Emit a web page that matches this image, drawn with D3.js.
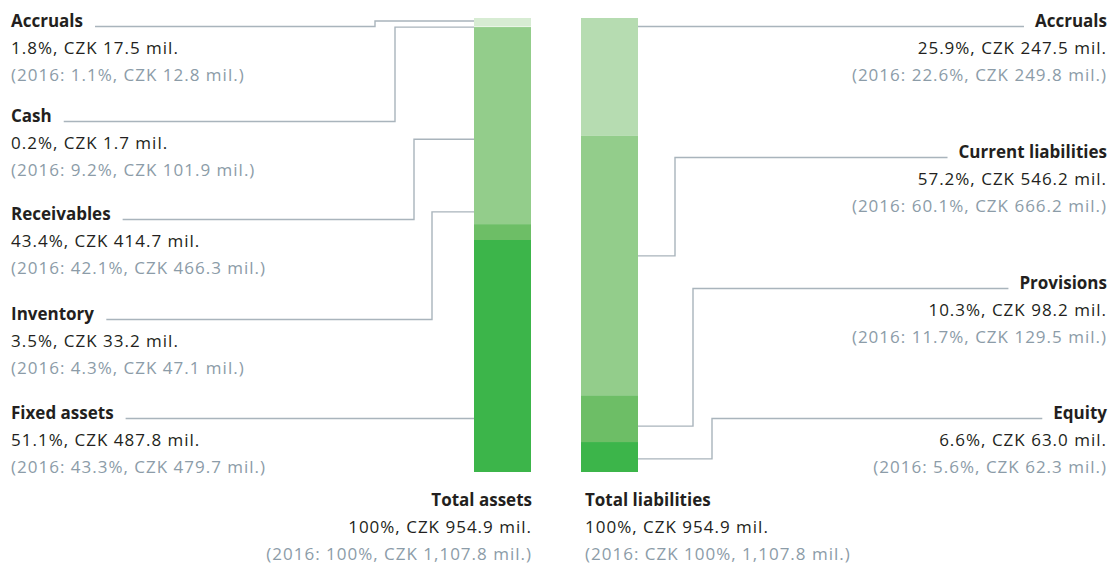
<!DOCTYPE html>
<html>
<head>
<meta charset="utf-8">
<script src="https://cdn.jsdelivr.net/npm/d3@7"></script>
<style>
  body { margin: 0; background: #fff; }
  text { font-family: "Open Sans", sans-serif; font-size: 17px; letter-spacing: 1px; }
  text.head { letter-spacing: 0; }
</style>
</head>
<body>
<script>
// assets (top to bottom of the left bar)
const assetNames = ["Accruals", "Cash", "Receivables", "Inventory", "Fixed assets"];
const assetShares = [1.8, 0.2, 43.4, 3.5, 51.1];
const assetValues = ["17.5", "1.7", "414.7", "33.2", "487.8"];
const assetShares2016 = ["1.1", "9.2", "42.1", "4.3", "43.3"];
const assetValues2016 = ["12.8", "101.9", "466.3", "47.1", "479.7"];

// liabilities (top to bottom of the right bar)
const liabNames = ["Accruals", "Current liabilities", "Provisions", "Equity"];
const liabShares = [25.9, 57.2, 10.3, 6.6];
const liabValues = ["247.5", "546.2", "98.2", "63.0"];
const liabShares2016 = ["22.6", "60.1", "11.7", "5.6"];
const liabValues2016 = ["249.8", "666.2", "129.5", "62.3"];

const totalNames = ["Total assets", "Total liabilities"];
const totalLines = ["100%, CZK 954.9 mil.", "100%, CZK 954.9 mil."];
const totalLines2016 = ["(2016: 100%, CZK 1,107.8 mil.)", "(2016: CZK 100%, 1,107.8 mil.)"];

// layout
const w = 1110, h = 565;
const assetColors = ["#d7ecd3", "#e6f3e3", "#93cd8b", "#6dbe66", "#3cb54a"];
const liabColors = ["#b6dcb1", "#93cd8b", "#6dbe66", "#3cb54a"];
const assetAnchors = [0.66, 2.0, 26.7, 42.7, 88.1];   // where leader lines hit the bar, in % of bar
const liabAnchors = [2.0, 52.4, 89.9, 97.1];
const assetElbows = [375, 395, 414, 432, null];
const liabElbows = [null, 675, 693, 712];
const assetBaselines = [27, 122, 220, 320, 419];
const liabBaselines = [27, 158, 289, 419];
const lineGap = 27;
const lineColor = "#a9b4bc";

const svg = d3.select("body").append("svg")
  .attr("width", w)
  .attr("height", h);

const yScale = d3.scaleLinear().domain([0, 100]).range([18, 472]);
const xScale = d3.scaleBand().domain(["assets", "liabilities"]).range([474, 638]).paddingInner(50 / 107);

const stack = shares => {
  let acc = 0;
  return shares.map(s => { const d = [acc, acc + s]; acc += s; return d; });
};

const drawBar = (key, shares, colors) => {
  svg.append("g").selectAll("rect")
    .data(stack(shares))
    .enter()
    .append("rect")
    .attr("x", xScale(key))
    .attr("width", xScale.bandwidth())
    .attr("y", d => yScale(d[0]))
    .attr("height", d => yScale(d[1]) - yScale(d[0]))
    .attr("fill", (d, i) => colors[i]);
};
drawBar("assets", assetShares, assetColors);
drawBar("liabilities", liabShares, liabColors);

const block = (g, x, y, anchor, name, line1, line2) => {
  const t = g.append("text").attr("class", "head").attr("x", x).attr("y", y).attr("text-anchor", anchor)
    .attr("font-weight", "bold").attr("fill", "#231f20").text(name);
  g.append("text").attr("x", x).attr("y", y + lineGap).attr("text-anchor", anchor)
    .attr("fill", "#231f20").text(line1);
  g.append("text").attr("x", x).attr("y", y + 2 * lineGap).attr("text-anchor", anchor)
    .attr("fill", "#8c9ca8").text(line2);
  return t.node().getBBox();
};

const leaders = svg.append("g").attr("fill", "none").attr("stroke", lineColor).attr("stroke-width", 1.4);
const labels = svg.append("g");

// left side labels
assetNames.forEach((name, i) => {
  const y = assetBaselines[i];
  const bb = block(labels, 11, y, "start", name,
    `${assetShares[i]}%, CZK ${assetValues[i]} mil.`,
    `(2016: ${assetShares2016[i]}%, CZK ${assetValues2016[i]} mil.)`);
  const ly = y - 0.5;
  const ay = yScale(assetAnchors[i]);
  const x0 = bb.x + bb.width + 12, x1 = xScale("assets");
  const pts = assetElbows[i] == null
    ? [[x0, ly], [x1, ly]]
    : [[x0, ly], [assetElbows[i], ly], [assetElbows[i], ay], [x1, ay]];
  leaders.append("path").attr("d", d3.line()(pts));
});

// right side labels
liabNames.forEach((name, i) => {
  const y = liabBaselines[i];
  const bb = block(labels, 1107, y, "end", name,
    `${liabShares[i]}%, CZK ${liabValues[i]} mil.`,
    `(2016: ${liabShares2016[i]}%, CZK ${liabValues2016[i]} mil.)`);
  const ly = y - 0.5;
  const ay = yScale(liabAnchors[i]);
  const x0 = xScale("liabilities") + xScale.bandwidth(), x1 = bb.x - 11;
  const pts = liabElbows[i] == null
    ? [[x0, ly], [x1, ly]]
    : [[x0, ay], [liabElbows[i], ay], [liabElbows[i], ly], [x1, ly]];
  leaders.append("path").attr("d", d3.line()(pts));
});

// totals under the bars
block(labels, xScale("assets") + xScale.bandwidth() + 1, 506, "end", totalNames[0], totalLines[0], totalLines2016[0]);
block(labels, xScale("liabilities") + 4, 506, "start", totalNames[1], totalLines[1], totalLines2016[1]);
</script>
</body>
</html>
